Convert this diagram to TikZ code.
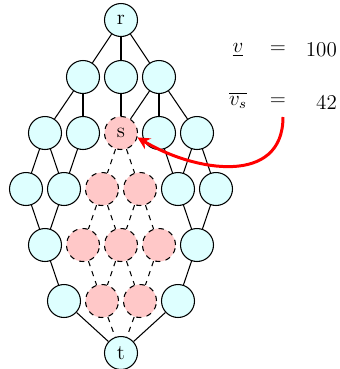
\documentclass[tikz,border=0pt]{standalone}
\usepackage{amsmath}
\usepackage{amssymb}
\usepackage{tikz}
\usetikzlibrary{arrows.meta, calc}

\definecolor{nodecyan}{RGB}{222,255,255}
\definecolor{nodepink}{RGB}{255,200,200}

\begin{document}
\begin{tikzpicture}[x=0.02cm, y=-0.02cm, font=\large,
        vert/.style={circle, draw, fill=nodecyan, minimum size=0.66cm, inner sep=0pt, line width=0.6pt},
        hot/.style={vert, fill=nodepink, dashed},
        edge/.style={line width=0.6pt},
        hotedge/.style={edge, dashed}]
        \useasboundingbox (0,0) rectangle (340,369);

        % Draw rows of the graph
        \node[vert] (r) at (121,20) {r};

        \node[vert] (a1) at (83,77) {};
        \node[vert] (a2) at (121,77) {};
        \node[vert] (a3) at (159,77) {};

        \node[vert] (b1) at (45,133) {};
        \node[vert] (b2) at (83,133) {};
        \node[hot] (s) at (121,133) {s};
        \node[vert] (b4) at (159,133) {};
        \node[vert] (b5) at (197,133) {};

        \node[vert] (c1) at (26,189) {};
        \node[vert] (c2) at (64,189) {};
        \node[hot] (c3) at (102,189) {};
        \node[hot] (c4) at (140,189) {};
        \node[vert] (c5) at (178,189) {};
        \node[vert] (c6) at (216,189) {};

        \node[vert] (d1) at (45,245) {};
        \node[hot] (d2) at (83,245) {};
        \node[hot] (d3) at (121,245) {};
        \node[hot] (d4) at (159,245) {};
        \node[vert] (d5) at (197,245) {};

        \node[vert] (e1) at (64,301) {};
        \node[hot] (e2) at (102,301) {};
        \node[hot] (e3) at (140,301) {};
        \node[vert] (e4) at (178,301) {};

        \node[vert] (t) at (121,353) {t};

        % Draw solid edges
        \draw[edge] (r) -- (a1);
        \draw[edge] (r) -- (a2);
        \draw[edge] (r) -- (a3);
        \draw[edge] (a1) -- (b1);
        \draw[edge] (a1) -- (b2);
        \draw[edge] (a2) -- (s);
        \draw[edge] (a3) -- (s);
        \draw[edge] (a3) -- (b4);
        \draw[edge] (a3) -- (b5);
        \draw[edge] (b1) -- (c1);
        \draw[edge] (b1) -- (c2);
        \draw[edge] (b2) -- (c2);
        \draw[edge] (b4) -- (c5);
        \draw[edge] (b5) -- (c5);
        \draw[edge] (b5) -- (c6);
        \draw[edge] (c1) -- (d1);
        \draw[edge] (c2) -- (d1);
        \draw[edge] (c5) -- (d5);
        \draw[edge] (c6) -- (d5);
        \draw[edge] (d1) -- (e1);
        \draw[edge] (d5) -- (e4);
        \draw[edge] (e1) -- (t);
        \draw[edge] (e4) -- (t);

        % Draw dashed edges below s
        \draw[hotedge] (s) -- (c3);
        \draw[hotedge] (s) -- (c4);
        \draw[hotedge] (c3) -- (d2);
        \draw[hotedge] (c3) -- (d3);
        \draw[hotedge] (c4) -- (d3);
        \draw[hotedge] (c4) -- (d4);
        \draw[hotedge] (d2) -- (e2);
        \draw[hotedge] (d3) -- (e2);
        \draw[hotedge] (d3) -- (e3);
        \draw[hotedge] (d4) -- (e3);
        \draw[hotedge] (e2) -- (t);
        \draw[hotedge] (e3) -- (t);

        % Draw values
        \node (vlo) at (238,50) {$\underline{v}$};
        \node (eq1) at (278,50) {$=$};
        \node[anchor=east, inner sep=1pt] (val1) at (339,50) {100};
        \node (vhi) at (238,100) {$\overline{v_s}$};
        \node (eq2) at (278,102) {$=$};
        \node[anchor=east, inner sep=1pt] (val2) at (339,102) {42};

        % Draw pointer to s
        \coordinate (tail) at (283,117);
        \draw[red, line width=1.7pt, -{Stealth[length=7pt, width=7pt]}] (tail) .. controls (283,186) and (195,172) .. (s.-15);
    \end{tikzpicture}
\end{document}
